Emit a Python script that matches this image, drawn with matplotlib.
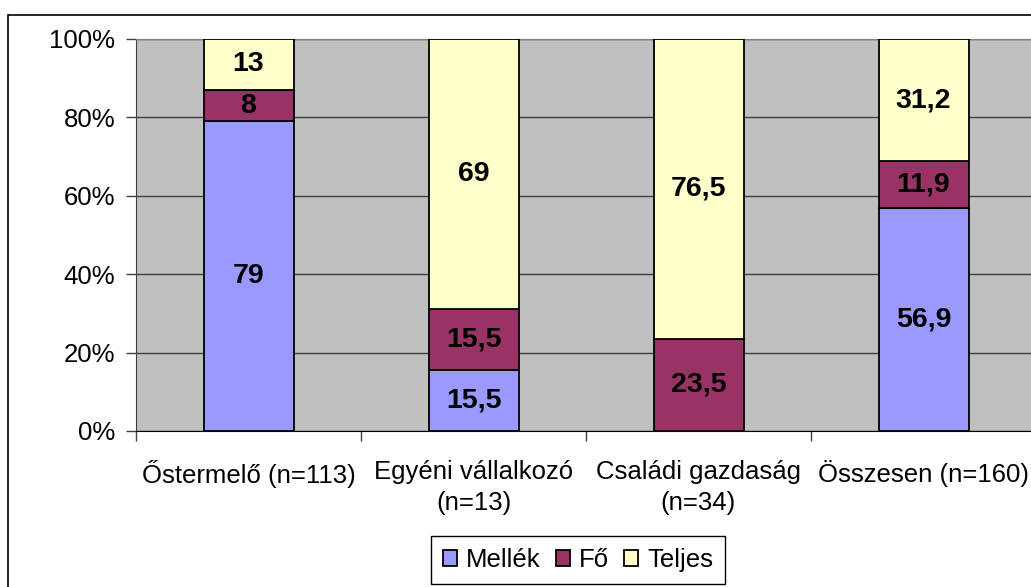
import numpy as np
import matplotlib.pyplot as plt
from matplotlib.patches import Rectangle, Patch

plt.rcParams['font.family'] = ['Liberation Sans', 'DejaVu Sans']

categories = ['Őstermelő (n=113)', 'Egyéni vállalkozó\n(n=13)', 'Családi gazdaság\n(n=34)', 'Összesen (n=160)']
mellek = [79, 15.5, 0, 56.9]
fo = [8, 15.5, 23.5, 11.9]
teljes = [13, 69, 76.5, 31.2]
series = [('Mellék', mellek, '#9999FF'), ('Fő', fo, '#993366'), ('Teljes', teljes, '#FFFFCC')]

W, H = 1031, 587
fig = plt.figure(figsize=(W / 100, H / 100), dpi=100)
# outer chart border
fig.patches.append(Rectangle((8 / W, -0.1), 1.2, 1 - 15 / H + 0.1, transform=fig.transFigure,
                             fill=False, edgecolor='black', linewidth=1.2))
ax = fig.add_axes([136 / W, 1 - 431 / H, 900 / W, 392 / H])
ax.set_facecolor('#C0C0C0')

x = np.arange(len(categories))
bottom = np.zeros(len(categories))
for name, vals, col in series:
    vals = np.array(vals, dtype=float)
    ax.bar(x, vals / 100, 0.4, bottom=bottom / 100, color=col, edgecolor='black',
           linewidth=1.3, label=name, zorder=3)
    for xi, v, b in zip(x, vals, bottom):
        if v > 0:
            ax.text(xi, (b + v / 2) / 100, f'{v:g}'.replace('.', ','), ha='center', va='center',
                    fontsize=20.5, fontweight='bold', zorder=4)
    bottom += vals

ax.set_xlim(-0.5, len(categories) - 0.5)
ax.set_ylim(0, 1)
ax.set_yticks(np.arange(0, 1.01, 0.2))
ax.set_yticklabels([f'{int(round(t * 100))}%' for t in np.arange(0, 1.01, 0.2)], fontsize=18.5)
ax.yaxis.grid(True, color='#404040', linewidth=1, zorder=1)
ax.set_axisbelow(True)
ax.set_xticks(x)
ax.set_xticklabels(categories, fontsize=18.5, linespacing=1.35)
ax.tick_params(axis='x', length=0, pad=21)
ax.set_xticks(np.arange(-0.5, len(categories)), minor=True)
ax.tick_params(axis='x', which='minor', length=7, color='#404040', width=1)
ax.tick_params(axis='y', length=7, color='#404040', width=1, pad=8)
for s in ['top', 'right']:
    ax.spines[s].set_color('#808080')
ax.spines['left'].set_color('#404040')
ax.spines['bottom'].set_color('black')

handles = [Patch(facecolor=c, edgecolor='black', linewidth=1.3, label=n) for n, _, c in series]
fig.legend(handles=handles, loc='center', bbox_to_anchor=(578 / W, 1 - 560 / H), ncol=3,
           fontsize=18.5, frameon=True, fancybox=False, edgecolor='black', framealpha=1,
           handlelength=0.55, handleheight=0.55, handletextpad=0.35, columnspacing=0.6,
           borderpad=0.45, borderaxespad=0)

fig.savefig('out.png', dpi=100)
